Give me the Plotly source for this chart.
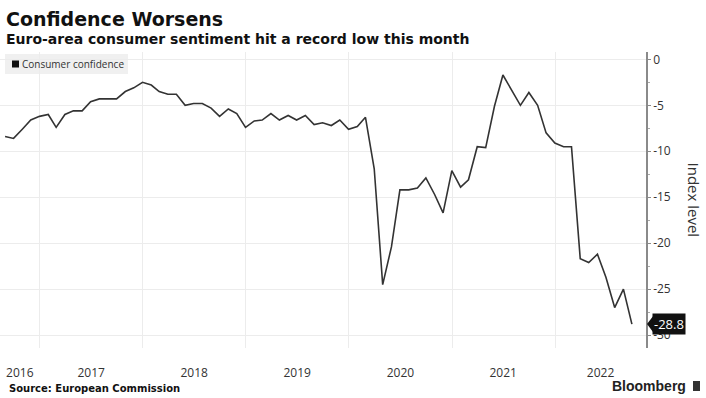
import plotly.graph_objects as go
import pandas as pd

# Monthly euro-area consumer confidence, Aug 2016 - Sep 2022 (month-end)
dates = pd.date_range("2016-08-31", periods=74, freq="ME")
values = [
    -8.4, -8.6, -7.6, -6.6, -6.2, -6.0, -7.4, -6.0, -5.6, -5.6,
    -4.6, -4.3, -4.3, -4.3, -3.5, -3.1, -2.5, -2.8, -3.5, -3.8,
    -3.8, -5.0, -4.8, -4.8, -5.3, -6.2, -5.4, -5.9, -7.4, -6.7,
    -6.6, -5.9, -6.6, -6.1, -6.6, -6.1, -7.1, -6.9, -7.2, -6.6,
    -7.6, -7.3, -6.3, -11.9, -24.5, -20.4, -14.2, -14.2, -14.0, -12.9,
    -14.7, -16.7, -12.1, -13.9, -13.1, -9.5, -9.6, -5.1, -1.7, -3.3,
    -5.0, -3.6, -5.0, -8.0, -9.1, -9.5, -9.5, -21.7, -22.1, -21.2,
    -23.7, -27.0, -25.0, -28.8,
]
series_name = "Consumer confidence"

year_labels = ["2016", "2017", "2018", "2019", "2020", "2021", "2022"]
year_label_pos = ["2016-10-22", "2017-07-02", "2018-07-02", "2019-07-02",
                  "2020-07-02", "2021-07-01", "2022-06-11"]
year_grid = ["2017-01-01", "2018-01-01", "2019-01-01", "2020-01-01",
             "2021-01-01", "2022-01-01"]
y_ticks = [0, -5, -10, -15, -20, -25, -30]

W, H = 706, 398
ML, MR, MT, MB = 0, 60, 52, 50
PW, PH = W - ML - MR, H - MT - MB


def px(x):
    return (x - ML) / PW


def py(y):
    return (H - MB - y) / PH


fig = go.Figure()
fig.add_trace(go.Scatter(
    x=dates, y=values, mode="lines", name=series_name,
    line=dict(color="#333333", width=1.6), showlegend=False,
))

tick_font = dict(family="Open Sans, sans-serif", size=12, color="#333333")

fig.update_layout(
    width=W, height=H,
    margin=dict(l=ML, r=MR, t=MT, b=MB),
    paper_bgcolor="white", plot_bgcolor="white",
    showlegend=False,
    xaxis=dict(
        range=["2016-08-13", "2022-11-19"],
        tickvals=year_label_pos, ticktext=year_labels,
        ticks="outside", ticklen=14, tickcolor="rgba(0,0,0,0)",
        showgrid=False, zeroline=False, showline=False,
        tickfont=tick_font,
        minor=dict(tickvals=year_grid, showgrid=True, gridcolor="#ececec",
                   gridwidth=1, ticks=""),
    ),
    yaxis=dict(
        side="right", range=[-31.4, 0.8],
        tickvals=y_ticks, ticktext=[str(v) for v in y_ticks],
        showgrid=True, gridcolor="#ececec", gridwidth=1,
        zeroline=False, showline=True, linecolor="#8a8a8a", linewidth=1.5,
        ticks="outside", ticklen=3, tickcolor="#8a8a8a",
        tickfont=tick_font,
        minor=dict(dtick=2.5, ticks="outside", ticklen=2, tickcolor="#aaaaaa",
                   showgrid=False),
    ),
)

shapes = []
# legend box
shapes.append(dict(type="rect", xref="paper", yref="paper",
                   x0=px(5), x1=px(128), y0=py(74), y1=py(54),
                   fillcolor="#f0f0f0", line=dict(width=0), layer="below"))
shapes.append(dict(type="rect", xref="paper", yref="paper",
                   x0=px(12), x1=px(19), y0=py(67.5), y1=py(60.5),
                   fillcolor="#111111", line=dict(width=0)))
# last value pointer
last = values[-1]
shapes.append(dict(type="path", xref="paper", yref="y",
                   path=f"M {px(647)} {last} L {px(653)} {last + 0.85} L {px(653)} {last - 0.85} Z",
                   fillcolor="#111111", line=dict(width=0)))
# Bloomberg logo
shapes.append(dict(type="rect", xref="paper", yref="paper",
                   x0=px(693), x1=px(700), y0=py(391), y1=py(381),
                   fillcolor="#333333", line=dict(width=0)))
fig.update_layout(shapes=shapes)

ann = []
ann.append(dict(text="<b>Confidence Worsens</b>", xref="paper", yref="paper",
                x=px(4), y=py(19.5), xanchor="left", yanchor="middle",
                showarrow=False,
                font=dict(family="DejaVu Sans", size=19, color="#111111")))
ann.append(dict(text="<b>Euro-area consumer sentiment hit a record low this month</b>",
                xref="paper", yref="paper", x=px(4), y=py(38.5),
                xanchor="left", yanchor="middle", showarrow=False,
                font=dict(family="DejaVu Sans", size=14, color="#111111")))
ann.append(dict(text=series_name, xref="paper", yref="paper",
                x=px(20), y=py(64), xanchor="left", yanchor="middle",
                showarrow=False,
                font=dict(family="Open Sans, sans-serif", size=10, color="#333333")))
ann.append(dict(text="Index level", xref="paper", yref="paper",
                x=px(693.5), y=0.5, xanchor="center", yanchor="middle",
                textangle=90, showarrow=False,
                font=dict(family="Open Sans, sans-serif", size=15, color="#333333")))
ann.append(dict(text=f"{last:.1f}", xref="paper", yref="y",
                x=px(652), y=last, xanchor="left", yanchor="middle",
                showarrow=False, bgcolor="#111111", borderpad=1,
                font=dict(family="Open Sans, sans-serif", size=13, color="white")))
ann.append(dict(text="<b>Source: European Commission</b>", xref="paper", yref="paper",
                x=px(7), y=py(388), xanchor="left", yanchor="middle",
                showarrow=False,
                font=dict(family="DejaVu Sans", size=10, color="#111111")))
ann.append(dict(text="<b>Bloomberg</b>", xref="paper", yref="paper",
                x=px(688), y=py(386), xanchor="right", yanchor="middle",
                showarrow=False,
                font=dict(family="Liberation Sans, Arial", size=14, color="#222222")))
fig.update_layout(annotations=ann)

fig.write_html("out.html")
